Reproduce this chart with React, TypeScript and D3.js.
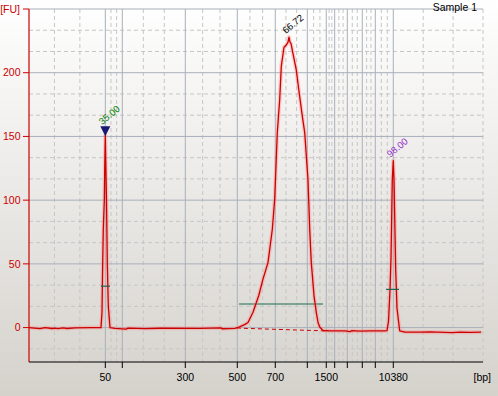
import React from 'react';
import * as d3 from 'd3';

const W = 498;
const H = 396;
const M = { left: 29, right: 483, top: 9, bottom: 362 };

// migration time (s) of the ladder bands and their sizes
const LADDER_TIME = [36.81, 40.55, 54.43, 65.88, 74.25, 81.3, 85.48, 87.33, 90.11, 93.41, 96.28, 100.24];
const LADDER_BP = [50, 100, 300, 500, 700, 1000, 1500, 2000, 3000, 5000, 7000, 10380];
const LADDER_SHOWN = [50, 300, 500, 700, 1500, 10380];
const FU_TICKS = [0, 50, 100, 150, 200, 250];
const TIME_DOMAIN = [20, 120];
const FU_DOMAIN = [-27, 250];

// electropherogram trace: [time s, FU]
const TRACE: [number, number][] = [
  [20.0, 0], [22.42, -0.8], [23.52, 0], [25.07, -0.7], [25.73, -0.5], [26.39, -0.8],
  [27.49, -0.3], [28.37, -0.7], [30.13, -0.2], [33.44, 0], [35.64, 0],
  [35.86, 0], [36.08, 12], [36.23, 50], [36.37, 78], [36.59, 100], [36.7, 130],
  [36.81, 151], [36.92, 128], [37.07, 100], [37.25, 50], [37.47, 17], [37.84, 0],
  [38.94, -0.6], [41.37, -1.2], [41.81, -0.4], [45.55, -0.8], [48.85, -0.5],
  [57.67, -0.6], [62.29, -0.2], [62.51, -0.9], [65.37, -0.6],
  [66.26, 0.3], [67.58, 2.5], [68.24, 4], [69.34, 12], [70.59, 25], [71.54, 38],
  [72.64, 51], [73.59, 77], [74.12, 101], [74.69, 153], [75.22, 179], [75.57, 205],
  [76.17, 220], [76.72, 222], [77.05, 224], [77.27, 228], [77.49, 224], [77.71, 223],
  [78.15, 215], [78.88, 202], [79.41, 187], [80.2, 166], [80.73, 153], [81.45, 116],
  [81.61, 100], [81.83, 77], [82.18, 51], [82.78, 25], [83.28, 12], [83.66, 4],
  [84.03, 0.5], [84.76, -2.3],
  [86.3, -2.5], [89.6, -2.6], [90.7, -3.2], [91.15, -2.4], [92.91, -2.8],
  [95.11, -2.5], [98.41, -2.6],
  [98.85, -2.3], [99.19, 5], [99.52, 30], [99.74, 55], [100.02, 116], [100.24, 131],
  [100.4, 116], [100.77, 45], [101.06, 15], [101.65, -2.5],
  [102.82, -3.5], [106.12, -3.6], [108.33, -3.4], [113.17, -3.9], [114.93, -3.5],
  [117.14, -3.7], [119.6, -3.6],
];

// smear region baseline and level bar
const REGION_BASE: [number, number][] = [[65.8, -0.4], [85.4, -2.6]];
const REGION_BAR = [66.26, 84.76, 18.5];
// marker half-height bars: [from, to, FU]
const MARKER_BARS = [[35.86, 37.84, 32.5], [98.63, 101.5, 30]];

// peak time labels
const PEAK_T = [36.81, 77.27, 100.24];
const PEAK_FU = [151, 228, 131];
const PEAK_LABEL = ['35.00', '66.72', '98.00'];
const PEAK_COLOR = ['#008000', '#000000', '#9933cc'];

const FONT = '"Liberation Sans", Arial, sans-serif';

export default function App() {
  const x = d3.scaleLinear().domain(TIME_DOMAIN).range([M.left, M.right]);
  const y = d3.scaleLinear().domain(FU_DOMAIN).range([M.bottom, M.top]);

  // minor vertical grid: thirds between bands, then fixed steps after the last one
  const edges = [TIME_DOMAIN[0], ...LADDER_TIME];
  const minorX: number[] = [];
  for (let i = 0; i < edges.length - 1; i++) {
    const a = edges[i], b = edges[i + 1];
    minorX.push(a + (b - a) / 3, a + (2 * (b - a)) / 3);
  }
  const last = LADDER_TIME[LADDER_TIME.length - 1];
  const step = (TIME_DOMAIN[1] - last) / 3;
  minorX.push(last + step, last + 2 * step, TIME_DOMAIN[1]);

  const minorY = d3.range(-1, 15).map(k => (k * 50) / 3).filter((v, i) => (i - 1) % 3 !== 0 && v >= FU_DOMAIN[0]);

  const line = d3.line<[number, number]>().x(d => x(d[0])).y(d => y(d[1]));

  return (
    <svg width={W} height={H} style={{ position: 'absolute', left: 0, top: 0, fontFamily: FONT }}>
      <defs>
        <linearGradient id="bg" x1="0" y1="0" x2="0" y2="1">
          <stop offset="0" stopColor="#ffffff" />
          <stop offset="1" stopColor="#d5d2cc" />
        </linearGradient>
      </defs>
      <rect width={W} height={H} fill="url(#bg)" />

      {/* grid */}
      <g>
        {minorY.map(v => (
          <line key={'my' + v} x1={M.left} x2={M.right} y1={y(v)} y2={y(v)} stroke="#c6c6c6" strokeDasharray="4,3" />
        ))}
        {minorX.map(t => (
          <line key={'mx' + t} x1={x(t)} x2={x(t)} y1={M.top} y2={M.bottom} stroke="#c6c6c6" strokeDasharray="4,3" />
        ))}
        {FU_TICKS.map(v => (
          <line key={'gy' + v} x1={M.left} x2={M.right} y1={y(v)} y2={y(v)} stroke="#a9b0bb" />
        ))}
        {LADDER_TIME.map(t => (
          <line key={'gx' + t} x1={x(t)} x2={x(t)} y1={M.top} y2={M.bottom} stroke="#a9b0bb" />
        ))}
      </g>

      {/* region baseline + bars */}
      <path d={line(REGION_BASE) || ''} fill="none" stroke="#cc0000" strokeDasharray="4,3" />
      <line x1={x(REGION_BAR[0])} x2={x(REGION_BAR[1])} y1={y(REGION_BAR[2])} y2={y(REGION_BAR[2])} stroke="#1f6e4e" strokeWidth={1.2} />

      {/* trace */}
      <path d={line(TRACE) || ''} fill="none" stroke="#ff8080" strokeOpacity={0.35} strokeWidth={4} strokeLinejoin="round" />
      <path d={line(TRACE) || ''} fill="none" stroke="#cc0000" strokeWidth={1.3} strokeLinejoin="round" />

      {MARKER_BARS.map((b, i) => (
        <line key={'mb' + i} x1={x(b[0])} x2={x(b[1])} y1={y(b[2])} y2={y(b[2])} stroke="#1f5e4e" strokeWidth={1.2} />
      ))}

      {/* lower marker flag */}
      <path
        d={`M${x(PEAK_T[0]) - 5},${y(PEAK_FU[0]) - 9}L${x(PEAK_T[0]) + 5},${y(PEAK_FU[0]) - 9}L${x(PEAK_T[0])},${y(PEAK_FU[0]) + 1}Z`}
        fill="#1a1a70"
      />

      {PEAK_T.map((t, i) => (
        <text
          key={'pl' + i}
          transform={`translate(${x(t) - 3},${y(PEAK_FU[i]) - (i === 0 ? 10 : 3)}) rotate(-40)`}
          fontSize={9.5}
          fill={PEAK_COLOR[i]}
        >
          {PEAK_LABEL[i]}
        </text>
      ))}

      {/* y axis */}
      <line x1={M.left} x2={M.left} y1={M.top} y2={M.bottom} stroke="#cc0000" strokeWidth={1.2} />
      {FU_TICKS.map(v => (
        <g key={'ty' + v} transform={`translate(0,${y(v)})`}>
          <line x1={M.left - 6} x2={M.left} stroke="#cc0000" />
          <text x={v === 250 ? 20 : 20.5} dy="0.36em" textAnchor="end" fontSize={10.5} fill="#cc0000">
            {v === 250 ? '[FU]' : v}
          </text>
        </g>
      ))}

      {/* x axis */}
      <line x1={M.left} x2={M.right} y1={M.bottom} y2={M.bottom} stroke="#000" />
      {LADDER_TIME.map((t, i) => (
        <g key={'tx' + t} transform={`translate(${x(t)},${M.bottom})`}>
          <line y1={0} y2={6} stroke="#000" />
          {LADDER_SHOWN.includes(LADDER_BP[i]) && (
            <text y={19} textAnchor="middle" fontSize={10.5} fill="#000">
              {LADDER_BP[i]}
            </text>
          )}
        </g>
      ))}
      <text x={491} y={381} textAnchor="end" fontSize={10.5} fill="#000">[bp]</text>

      <text x={477} y={11} textAnchor="end" fontSize={10.5} fill="#000">Sample 1</text>
    </svg>
  );
}
